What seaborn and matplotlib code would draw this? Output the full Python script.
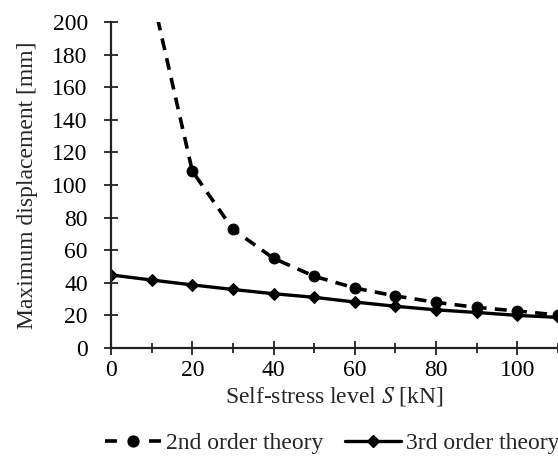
import matplotlib
matplotlib.use("Agg")
import matplotlib.pyplot as plt
import seaborn as sns
import pandas as pd
from matplotlib.lines import Line2D
from matplotlib.ticker import MultipleLocator

S_second = [10, 20, 30, 40, 50, 60, 70, 80, 90, 100, 110]
D_second = [218, 108.5, 72.8, 55.0, 44.0, 36.8, 31.9, 28.0, 24.9, 22.7, 20.2]
S_third = [0, 10, 20, 30, 40, 50, 60, 70, 80, 90, 100, 110]
D_third = [44.8, 41.7, 38.7, 35.9, 33.3, 31.1, 28.2, 25.6, 23.4, 21.8, 20.0, 18.8]
x_ticks = [0, 20, 40, 60, 80, 100]
y_ticks = [0, 20, 40, 60, 80, 100, 120, 140, 160, 180, 200]
label_second = "2nd order theory"
label_third = "3rd order theory"

sns.set_style("ticks")
plt.rcParams["font.family"] = ["Liberation Serif", "DejaVu Serif"]
plt.rcParams["mathtext.fontset"] = "stix"

FS = 17

df2 = pd.DataFrame({"S": S_second, "D": D_second})
df3 = pd.DataFrame({"S": S_third, "D": D_third})

fig = plt.figure(figsize=(5.58, 4.57), dpi=100)
ax = fig.add_axes([0.199, 0.2385, 0.801, 0.7135])

sns.lineplot(data=df2, x="S", y="D", ax=ax, color="black", lw=2.6,
             marker="o", markersize=7.8, markeredgecolor="black",
             label=label_second)
ax.lines[-1].set_dashes((3.3, 2.3))
sns.lineplot(data=df3, x="S", y="D", ax=ax, color="black", lw=2.4,
             marker="D", markersize=5.8, markeredgecolor="black",
             label=label_third)

ax.set_xlim(0, 110)
ax.set_ylim(0, 200)
ax.set_xticks(x_ticks)
ax.xaxis.set_minor_locator(MultipleLocator(10))
ax.set_yticks(y_ticks)
for s in ["top", "right"]:
    ax.spines[s].set_visible(False)
for s in ["left", "bottom"]:
    ax.spines[s].set_linewidth(1.6)
    ax.spines[s].set_color("#222222")
    ax.spines[s].set_clip_on(False)
ax.tick_params(axis="both", which="major", direction="inout", length=9.5,
               width=1.3, labelsize=FS, colors="#222222", labelcolor="black")
ax.tick_params(axis="y", which="major", pad=12)
ax.tick_params(axis="x", which="major", pad=4)
ax.tick_params(axis="x", which="minor", direction="inout", length=6.5, width=1.3,
               colors="#222222")
ax.set_xlabel("Self-stress level $\\mathit{S}$ [kN]", fontsize=FS, labelpad=3)
ax.set_ylabel("Maximum displacement [mm]", fontsize=FS, labelpad=10)

ax.get_legend().remove()
h2 = Line2D([], [], color="black", lw=2.6, marker="o", markersize=7.8,
            dashes=(3.3, 8.9))
h3 = Line2D([], [], color="black", lw=2.4, marker="D", markersize=5.8)
fig.legend([h2, h3], [label_second, label_third], loc="center",
           bbox_to_anchor=(0.595, 0.03), ncol=2,
           frameon=False, fontsize=FS, handlelength=2.4, columnspacing=0.9,
           handletextpad=0.2, borderpad=0.1)

fig.savefig("out.png", dpi=100)
